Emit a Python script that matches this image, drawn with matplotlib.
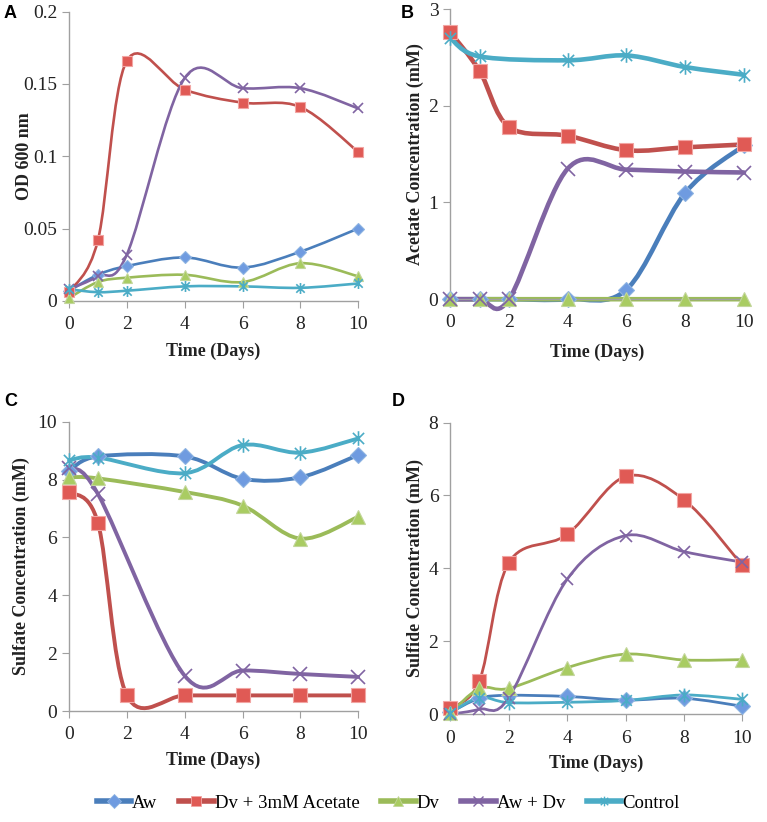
import numpy as np
import matplotlib
matplotlib.use('Agg')
import matplotlib.pyplot as plt
from matplotlib.path import Path
from matplotlib.patches import PathPatch
from matplotlib.lines import Line2D

plt.rcParams['font.family'] = ['Liberation Serif', 'DejaVu Serif']

days = [0, 1, 2, 4, 6, 8, 10]
nan = np.nan

# Panel A - OD 600 nm
od_aw = [0.007, 0.018, 0.024, 0.030, 0.023, 0.034, 0.050]
od_dv_ac = [0.006, 0.042, 0.166, 0.146, 0.137, 0.134, 0.103]
od_dv = [0.002, 0.013, 0.016, 0.018, 0.013, 0.026, 0.017]
od_awdv = [0.008, 0.017, 0.032, 0.154, 0.147, 0.147, 0.133]
od_ctrl = [0.008, 0.006, 0.007, 0.010, 0.010, 0.009, 0.012]

# Panel B - acetate (mM)
ac_aw = [0, 0, 0, 0, 0.10, 1.10, 1.59]
ac_dv_ac = [2.76, 2.36, 1.78, 1.69, 1.54, 1.57, 1.60]
ac_dv = [0, 0, 0, 0, 0, 0, 0]
ac_awdv = [0, 0, 0, 1.35, 1.34, 1.32, 1.31]
ac_ctrl = [2.70, 2.51, nan, 2.47, 2.52, 2.40, 2.32]

# Panel C - sulfate (mM)
so_aw = [8.3, 8.8, nan, 8.8, 8.03, 8.08, 8.85]
so_dv_ac = [7.58, 6.50, 0.54, 0.54, 0.54, 0.54, 0.54]
so_dv = [8.08, 8.04, nan, 7.57, 7.10, 5.96, 6.71]
so_awdv = [8.40, 7.50, nan, 1.22, 1.40, 1.28, 1.18]
so_ctrl = [8.66, 8.76, nan, 8.22, 9.19, 8.93, 9.42]

# Panel D - sulfide (mM)
hs_aw = [0.05, 0.44, 0.52, 0.49, 0.39, 0.44, 0.22]
hs_dv_ac = [0.16, 0.92, 4.15, 4.93, 6.52, 5.88, 4.08]
hs_dv = [0.03, 0.71, 0.71, 1.28, 1.65, 1.49, 1.50]
hs_awdv = [0.0, 0.14, 0.45, 3.70, 4.90, 4.46, 4.17]
hs_ctrl = [0.04, 0.46, 0.32, 0.33, 0.38, 0.53, 0.41]

names = ['Aw', 'Dv + 3mM Acetate', 'Dv', 'Aw + Dv', 'Control']
colors = ['#4a7ebb', '#c0504d', '#9bbb59', '#8064a2', '#4bacc6']
faces = ['#6f9be0', '#e05a55', '#a9cc62', '#8064a2', '#4bacc6']
edges = ['#8db3e2', '#f2a5a3', '#c3d69b', '#8064a2', '#4bacc6']

asterisk = Path([(-1, -1), (1, 1), (-1, 1), (1, -1), (0, -1.3), (0, 1.3)],
                [Path.MOVETO, Path.LINETO, Path.MOVETO, Path.LINETO,
                 Path.MOVETO, Path.LINETO])
markers = ['D', 's', '^', 'x', asterisk]
mscale = [0.85, 1.0, 1.0, 0.95, 1.05]


def smooth_path(x, y):
    # Excel-like smoothed line: cubic Bezier through the points
    pts = [(a, b) for a, b in zip(x, y) if not np.isnan(b)]
    pts = np.array(pts, dtype=float)
    verts = [pts[0]]
    codes = [Path.MOVETO]
    n = len(pts)
    for i in range(n - 1):
        p0 = pts[i - 1] if i > 0 else pts[i]
        p1 = pts[i]
        p2 = pts[i + 1]
        p3 = pts[i + 2] if i + 2 < n else pts[i + 1]
        c1 = p1 + (p2 - p0) / 6.0
        c2 = p2 - (p3 - p1) / 6.0
        verts += [c1, c2, p2]
        codes += [Path.CURVE4] * 3
    return Path(verts, codes)


panels = [
    ('A', [od_aw, od_dv_ac, od_dv, od_awdv, od_ctrl], 'OD 600 nm',
     (0, 0.2), [0, 0.05, 0.1, 0.15, 0.2], ['0', '0.05', '0.1', '0.15', '0.2'],
     [0.090, 0.634, 0.377, 0.352], 1.9, 7.5, (-0.155, -0.176)),
    ('B', [ac_aw, ac_dv_ac, ac_dv, ac_awdv, ac_ctrl], 'Acetate Concentration (mM)',
     (0, 3), [0, 1, 2, 3], ['0', '1', '2', '3'],
     [0.587, 0.636, 0.383, 0.353], 3.3, 10, (-0.12, -0.183)),
    ('C', [so_aw, so_dv_ac, so_dv, so_awdv, so_ctrl], 'Sulfate Concentration (mM)',
     (0, 10), [0, 2, 4, 6, 8, 10], ['0', '2', '4', '6', '8', '10'],
     [0.090, 0.135, 0.377, 0.352], 2.8, 10, (-0.165, -0.17)),
    ('D', [hs_aw, hs_dv_ac, hs_dv, hs_awdv, hs_ctrl], 'Sulfide Concentration (mM)',
     (0, 8), [0, 2, 4, 6, 8], ['0', '2', '4', '6', '8'],
     [0.587, 0.131, 0.381, 0.355], 2.0, 9.5, (-0.12, -0.168)),
]

letter_pos = {'A': (10, 14), 'B': (407, 13), 'C': (11, 401), 'D': (398, 401)}

fig = plt.figure(figsize=(7.67, 8.22), dpi=100)

for letter, series, ylabel, ylim, yticks, yticklabels, rect, lw, ms, lab in panels:
    ax = fig.add_axes(rect)
    for k, ys in enumerate(series):
        ax.add_patch(PathPatch(smooth_path(days, ys), fill=False,
                               edgecolor=colors[k], lw=lw, zorder=2 + k * 0.1,
                               clip_on=False, capstyle='round'))
    for k, ys in enumerate(series):
        m = markers[k]
        if k >= 3:
            ax.plot(days, ys, linestyle='none', marker=m, ms=ms * mscale[k],
                    mec=edges[k], mew=1.2, mfc='none', zorder=4, clip_on=False)
        else:
            ax.plot(days, ys, linestyle='none', marker=m, ms=ms * mscale[k],
                    mfc=faces[k], mec=edges[k], mew=0.8, zorder=4, clip_on=False)
    ax.set_xlim(0, 10)
    ax.set_ylim(*ylim)
    ax.set_xticks([0, 2, 4, 6, 8, 10])
    ax.set_yticks(yticks)
    ax.set_yticklabels(yticklabels)
    for s in ['top', 'right']:
        ax.spines[s].set_visible(False)
    for s in ['left', 'bottom']:
        ax.spines[s].set_color('#a0a0a0')
        ax.spines[s].set_linewidth(1.0)
    ax.tick_params(direction='out', length=5, color='#a0a0a0', labelsize=14,
                   labelcolor='#222222')
    ax.tick_params(axis='x', pad=6)
    ax.set_xlabel('Time (Days)', fontsize=13, fontweight='bold', color='#222222')
    ax.set_ylabel(ylabel, fontsize=13, fontweight='bold', color='#222222')
    ax.yaxis.set_label_coords(lab[0], 0.5)
    ax.xaxis.set_label_coords(0.5, lab[1])
    ax.xaxis.label.set_va('center')
    ax.yaxis.label.set_va('center')
    px, py = letter_pos[letter]
    fig.text(px / 767, 1 - py / 822, letter, family='Liberation Sans',
             fontweight='bold', fontsize=13, ha='center', va='center')

handles = []
for k in range(5):
    if k >= 3:
        h = Line2D([], [], color=colors[k], lw=4, marker=markers[k], ms=7,
                   mec=edges[k], mfc='none', mew=1.0)
    else:
        h = Line2D([], [], color=colors[k], lw=4, marker=markers[k], ms=7,
                   mfc=faces[k], mec=edges[k], mew=0.6)
    handles.append(h)

fig.legend(handles, names, loc='center', bbox_to_anchor=(388 / 767, 1 - 803 / 822),
           ncol=5, frameon=False, prop={'family': 'Liberation Serif', 'size': 13.5},
           handlelength=1.85, handletextpad=0.05, columnspacing=1.15,
           borderpad=0, borderaxespad=0)

fig.savefig('out.png', dpi=100)
